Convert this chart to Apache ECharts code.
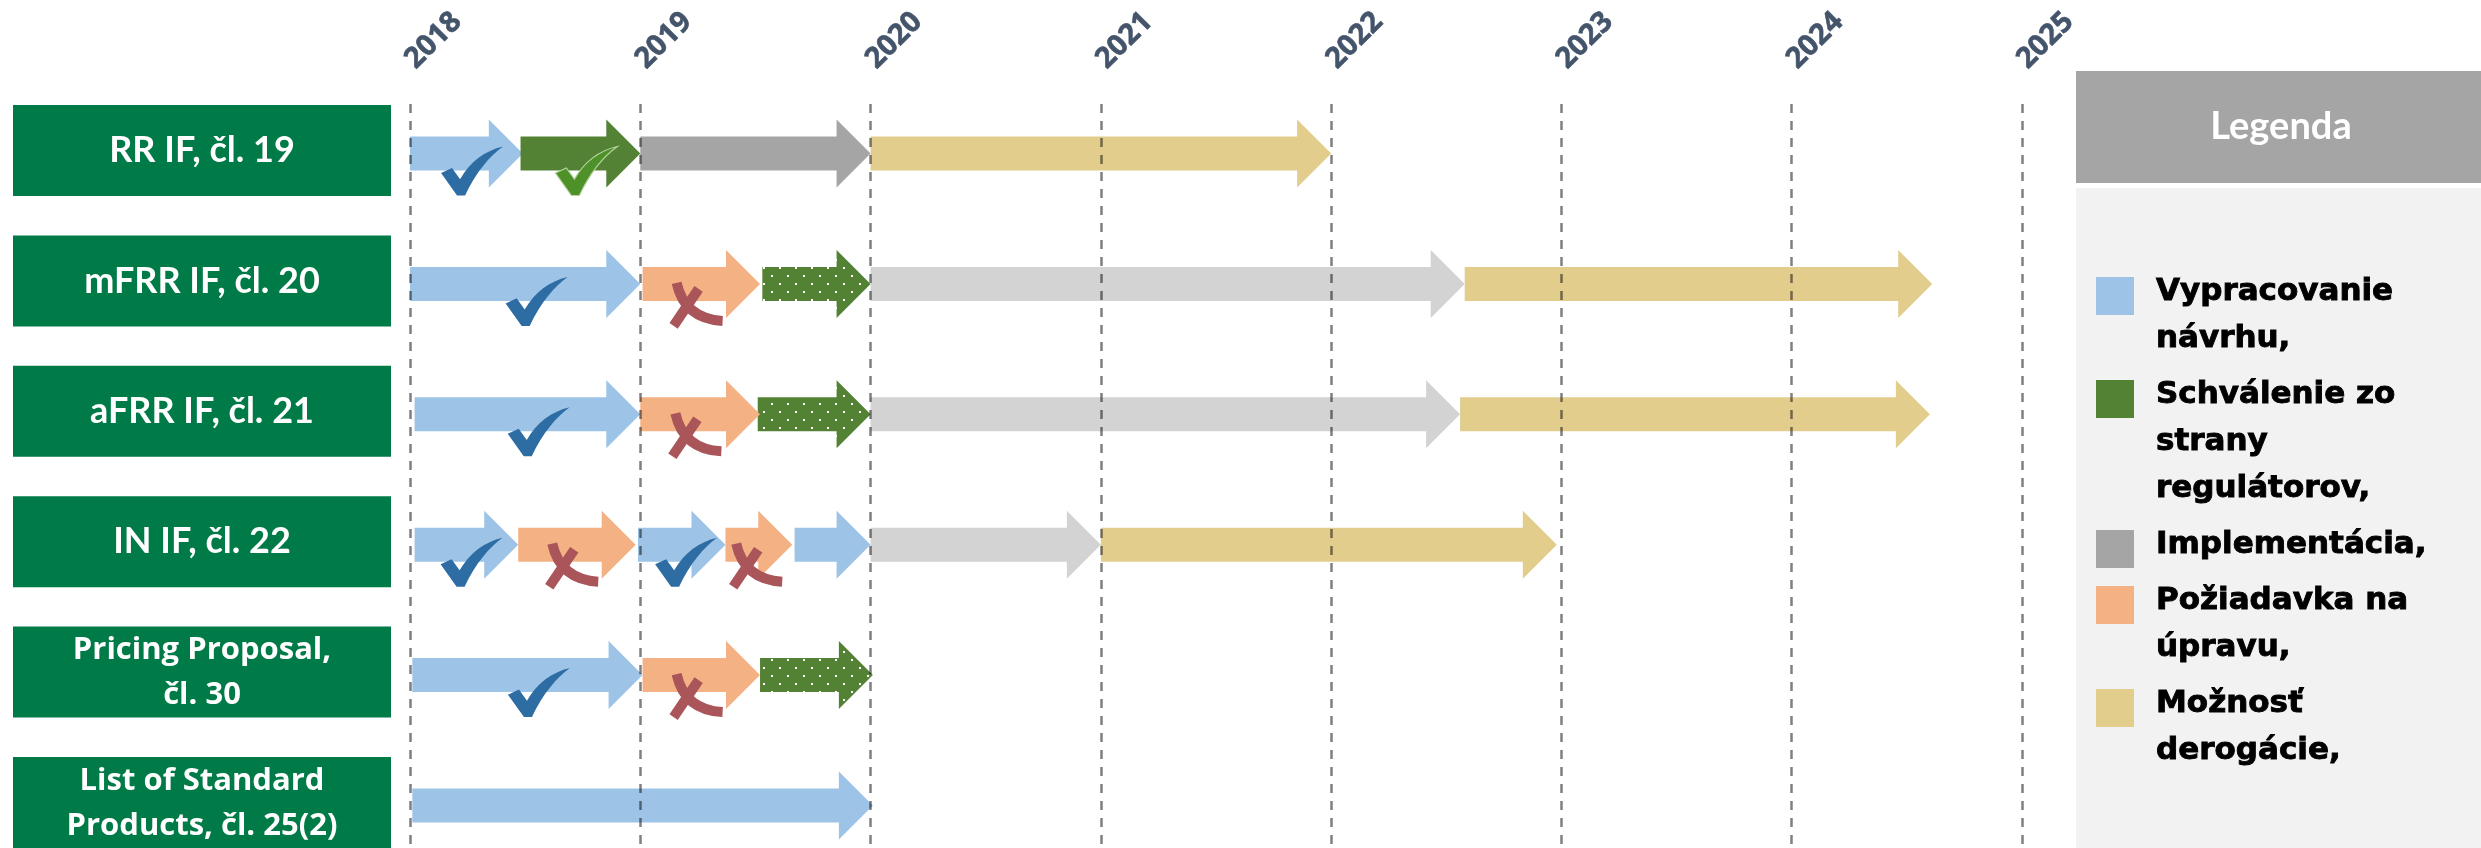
<!DOCTYPE html>
<html>
<head>
<meta charset="utf-8">
<title>Harmonogram</title>
<script src="https://cdn.jsdelivr.net/npm/echarts@6.0.0/dist/echarts.min.js"></script>
<style>
html, body { margin: 0; padding: 0; background: #fff; }
#chart { width: 2481px; height: 848px; }
</style>
</head>
<body>
<div id="chart"></div>
<script>
const years = [2018, 2019, 2020, 2021, 2022, 2023, 2024, 2025];
const rows = [
  'RR IF, čl. 19',
  'mFRR IF, čl. 20',
  'aFRR IF, čl. 21',
  'IN IF, čl. 22',
  'Pricing Proposal,\nčl. 30',
  'List of Standard\nProducts, čl. 25(2)'
];
const phases = ['Vypracovanie návrhu,', 'Schválenie zo strany regulátorov,', 'Implementácia,', 'Požiadavka na úpravu,', 'Možnosť derogácie,'];
const phaseColors = ['#9DC3E6', '#548235', '#A5A5A5', '#F4B183', '#E2CD8C'];

// [row, od, do, značka]
const draftSegs = [
  [0, 2018.0, 2018.49, 'check'],
  [1, 2018.0, 2019.0, 'check'],
  [2, 2018.02, 2019.0, 'check'],
  [3, 2018.02, 2018.47, 'check'],
  [3, 2018.99, 2019.37, 'check'],
  [3, 2019.67, 2020.0, ''],
  [4, 2018.01, 2019.01, 'check'],
  [5, 2018.01, 2020.01, '']
];
const approvalSegs = [
  [0, 2018.48, 2019.0, 'check'],
  [1, 2019.53, 2020.0, 'pending'],
  [2, 2019.51, 2020.0, 'pending'],
  [4, 2019.52, 2020.01, 'pending']
];
const implSegs = [
  [0, 2019.0, 2020.0, 'done'],
  [1, 2020.0, 2022.58, 'planned'],
  [2, 2020.0, 2022.56, 'planned'],
  [3, 2020.0, 2021.0, 'planned']
];
const requestSegs = [
  [1, 2019.01, 2019.52, 'cross'],
  [2, 2019.0, 2019.52, 'cross'],
  [3, 2018.47, 2018.98, 'cross'],
  [3, 2019.37, 2019.66, 'cross'],
  [4, 2019.01, 2019.52, 'cross']
];
const derogSegs = [
  [0, 2020.0, 2022.0, ''],
  [1, 2022.58, 2024.61, ''],
  [2, 2022.56, 2024.6, ''],
  [3, 2021.0, 2022.98, '']
];

const CHECK_PATH = 'M0 26 L11 21 L19 32 C29 15 44 4 62 0 C49 9 35 25 24 48 L16 48 Z';

// zelená s bodkami (čaká na schválenie)
const dotted = (() => {
  const c = document.createElement('canvas');
  c.width = 16; c.height = 16;
  const g = c.getContext('2d');
  g.fillStyle = '#548235';
  g.fillRect(0, 0, 16, 16);
  g.fillStyle = '#ffffff';
  g.fillRect(3, 3, 2, 2);
  g.fillRect(11, 11, 2, 2);
  return c;
})();

function arrowSeries(idx, segs) {
  return {
    type: 'custom',
    name: phases[idx],
    data: segs.map(s => [s[0], s[1], s[2]]),
    encode: { x: [1, 2], y: 0 },
    itemStyle: { color: phaseColors[idx] },
    renderItem: (params, api) => {
      const seg = segs[params.dataIndex];
      const a = api.coord([api.value(1), api.value(0)]);
      const b = api.coord([api.value(2), api.value(0)]);
      const yc = a[1] + 3, x0 = a[0], x1 = b[0], xh = x1 - 34;
      let fill = phaseColors[idx];
      if (seg[3] === 'pending') fill = { image: dotted, repeat: 'repeat' };
      if (seg[3] === 'planned') fill = '#D3D3D3';
      const children = [{
        type: 'polygon',
        shape: {
          points: [[x0, yc - 17], [xh, yc - 17], [xh, yc - 34], [x1, yc],
                   [xh, yc + 34], [xh, yc + 17], [x0, yc + 17]]
        },
        style: { fill: fill }
      }];
      if (seg[3] === 'check') {
        const cx = x0 + 0.55 * (x1 - x0);
        const green = idx === 1;
        children.push({
          type: 'path', z2: 10,
          shape: { pathData: CHECK_PATH, x: cx - 31, y: yc - 7, width: 62, height: 49, layout: 'cover' },
          style: green
            ? { fill: '#4E9128', stroke: '#B5D3A0', lineWidth: 1.2 }
            : { fill: '#2E6CA4' }
        });
      }
      if (seg[3] === 'cross') {
        const cx = x0 + 0.46 * (x1 - x0), bx = cx - 26, by = yc - 3;
        children.push({
          type: 'bezierCurve', z2: 10,
          shape: { x1: bx + 6, y1: by + 2, cpx1: bx + 14, cpy1: by + 38, x2: bx + 52, y2: by + 40 },
          style: { stroke: '#A9555A', lineWidth: 10, fill: 'none' }
        });
        children.push({
          type: 'line', z2: 10,
          shape: { x1: bx + 28, y1: by + 8, x2: bx + 3, y2: by + 45 },
          style: { stroke: '#A9555A', lineWidth: 10 }
        });
      }
      return { type: 'group', children: children };
    }
  };
}

// legenda - zalamovanie textu
function wrapText(text, font, maxW) {
  const ctx = document.createElement('canvas').getContext('2d');
  ctx.font = font;
  const lines = [];
  let cur = '';
  text.split(' ').forEach(w => {
    const t = cur ? cur + ' ' + w : w;
    if (cur && ctx.measureText(t).width > maxW) { lines.push(cur); cur = w; }
    else cur = t;
  });
  lines.push(cur);
  return lines;
}

const legendFont = 'bold 31px "DejaVu Sans"';
const legendGraphic = [
  { type: 'rect', shape: { x: 2076, y: 71, width: 405, height: 112 }, style: { fill: '#A5A5A5' } },
  { type: 'rect', shape: { x: 2076, y: 188, width: 405, height: 660 }, style: { fill: '#F2F2F2' } },
  { type: 'text', x: 2281, y: 127,
    style: { text: 'Legenda', fill: '#fff', fontFamily: 'Lato', fontWeight: 'bold', fontSize: 38, align: 'center', verticalAlign: 'middle' } }
];
let ly = 268;
phases.forEach((name, i) => {
  const lines = wrapText(name, legendFont, 290);
  legendGraphic.push({ type: 'rect', shape: { x: 2096, y: ly + 9, width: 38, height: 38 }, style: { fill: phaseColors[i] } });
  legendGraphic.push({
    type: 'text', x: 2156, y: ly,
    style: {
      text: lines.join('\n'), fill: '#000', fontFamily: 'DejaVu Sans', fontWeight: 'bold', fontSize: 31,
      lineHeight: 47, verticalAlign: 'top', stroke: '#000', lineWidth: 0.9
    }
  });
  ly += lines.length * 47 + 9;
});

const chart = echarts.init(document.getElementById('chart'));
chart.setOption({
  animation: false,
  grid: { left: 410, right: 459, top: 104, bottom: 0, containLabel: false, outerBoundsMode: 'none' },
  xAxis: {
    type: 'value', position: 'top',
    min: years[0], max: years[years.length - 1], interval: 1,
    z: 10,
    axisLine: { show: false },
    axisTick: { show: false },
    axisLabel: {
      rotate: 45, margin: 40, color: '#44546A',
      fontFamily: 'Open Sans', fontWeight: 'bold', fontSize: 29,
      textBorderColor: '#44546A', textBorderWidth: 0.6,
      showMinLabel: true, showMaxLabel: true,
      formatter: v => String(v)
    },
    splitLine: { show: true, lineStyle: { color: 'rgba(0,0,0,0.5)', width: 2.5, type: [9, 8] } }
  },
  yAxis: { type: 'value', inverse: true, min: -0.3566, max: 5.349, show: false },
  graphic: legendGraphic,
  series: [
    {
      type: 'custom',
      name: 'boxes',
      data: rows.map((r, i) => [i]),
      encode: { y: 0 },
      renderItem: (params, api) => {
        const y = api.coord([years[0], api.value(0)])[1];
        const label = rows[params.dataIndex];
        const twoLine = label.indexOf('\n') >= 0;
        return {
          type: 'group',
          children: [
            { type: 'rect', shape: { x: 13, y: y - 45.5, width: 378, height: 91 }, style: { fill: '#007A47' } },
            {
              type: 'text',
              style: {
                text: label, x: 202, y: twoLine ? y + 1 : y,
                fill: '#fff', align: 'center', verticalAlign: 'middle',
                fontFamily: twoLine ? 'Open Sans' : 'Lato', fontWeight: 'bold',
                fontSize: twoLine ? 31 : 36, lineHeight: 45
              }
            }
          ]
        };
      }
    },
    arrowSeries(0, draftSegs),
    arrowSeries(1, approvalSegs),
    arrowSeries(2, implSegs),
    arrowSeries(3, requestSegs),
    arrowSeries(4, derogSegs)
  ]
});
</script>
</body>
</html>
